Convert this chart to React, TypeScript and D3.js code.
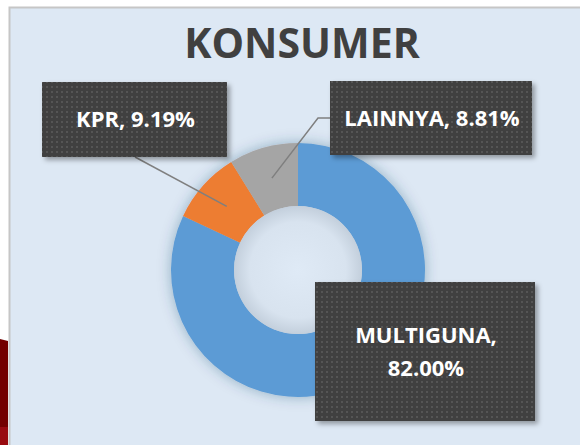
import React from "react";
import * as d3 from "d3";

const categories = ["MULTIGUNA", "KPR", "LAINNYA"];
const values = [82.0, 9.19, 8.81];
const labelTexts = [["MULTIGUNA,", "82.00%"], ["KPR, 9.19%"], ["LAINNYA, 8.81%"]];
const colors = ["#5b9bd5", "#ed7d31", "#a5a5a5"];
const title = "KONSUMER";

const W = 580, H = 445;
const cx = 298, cy = 270, rOuter = 127, rInner = 64;

// label box layout: [x, y, w, h]
const boxes = [
  [315, 282, 220, 139],
  [42, 82, 185, 75],
  [330, 81, 202, 74],
];
// leader line anchor on box for each label (null = no line)
const anchors: (null | [number, number][])[] = [
  null,
  [[135, 157]],
  [[318, 118], [330, 118]],
];

const FONT = "'Open Sans', 'Noto Sans', sans-serif";

export default function App() {
  const pie = d3.pie<number>().sort(null).value((d) => d).startAngle(0).endAngle(2 * Math.PI);
  const arcs = pie(values);
  const arc = d3.arc<d3.PieArcDatum<number>>().innerRadius(rInner).outerRadius(rOuter);

  return (
    <svg width={W} height={H} style={{ position: "absolute", left: 0, top: 0 }}>
      <defs>
        <pattern id="dots" width={5} height={5} patternUnits="userSpaceOnUse">
          <rect width={5} height={5} fill="#404040" />
          <rect x={1} y={1} width={2} height={2} fill="#545454" />
        </pattern>
        <filter id="boxShadow" x="-20%" y="-20%" width="140%" height="150%">
          <feDropShadow dx={3} dy={3} stdDeviation={2.5} floodColor="#000" floodOpacity={0.35} />
        </filter>
        <filter id="donutShadow" x="-30%" y="-30%" width="160%" height="160%">
          <feDropShadow dx={0} dy={0} stdDeviation={7} floodColor="#1f3f66" floodOpacity={0.35} />
        </filter>
        <radialGradient id="hole" cx="50%" cy="50%" r="50%">
          <stop offset="0%" stopColor="#dfeaf6" />
          <stop offset="75%" stopColor="#d8e3ef" />
          <stop offset="100%" stopColor="#c3cfdc" />
        </radialGradient>
      </defs>
      <rect x={0} y={0} width={W} height={H} fill="#ffffff" />
      <path d={`M0,339 L8,341 L8,${H} L0,${H} Z`} fill="#730000" />
      <rect x={0} y={427} width={8} height={H - 427} fill="#980a10" />
      <rect x={9.5} y={7.5} width={W} height={H} fill="#dde8f4" stroke="#c6c6c6" strokeWidth={2} />

      <text
        x={302}
        y={58}
        textAnchor="middle"
        fontFamily={FONT}
        fontWeight={700}
        fontSize={41}
        fill="#404040"
      >
        {title}
      </text>

      <g transform={`translate(${cx},${cy})`}>
        <g filter="url(#donutShadow)">
          {arcs.map((a, i) => (
            <path key={categories[i]} d={arc(a) || ""} fill={colors[i]} />
          ))}
        </g>
        <circle r={rInner} fill="url(#hole)" />
      </g>

      {arcs.map((a, i) => {
        const pts = anchors[i];
        if (!pts) return null;
        const c = arc.centroid(a);
        const all = [[cx + c[0], cy + c[1]], ...pts];
        return (
          <polyline
            key={"l" + i}
            points={all.map((p) => p.join(",")).join(" ")}
            fill="none"
            stroke="#7f7f7f"
            strokeWidth={1.5}
          />
        );
      })}

      {boxes.map((b, i) => {
        const [x, y, w, h] = b;
        const lines = labelTexts[i];
        const lh = 33;
        const startY = y + h / 2 - ((lines.length - 1) * lh) / 2;
        return (
          <g key={"b" + i}>
            <rect x={x} y={y} width={w} height={h} fill="url(#dots)" filter="url(#boxShadow)" />
            {lines.map((t, j) => (
              <text
                key={j}
                x={x + w / 2 + 1}
                y={startY + j * lh}
                dy="0.36em"
                textAnchor="middle"
                fontFamily={FONT}
                fontWeight={700}
                fontSize={22}
                fill="#ffffff"
              >
                {t}
              </text>
            ))}
          </g>
        );
      })}
    </svg>
  );
}
